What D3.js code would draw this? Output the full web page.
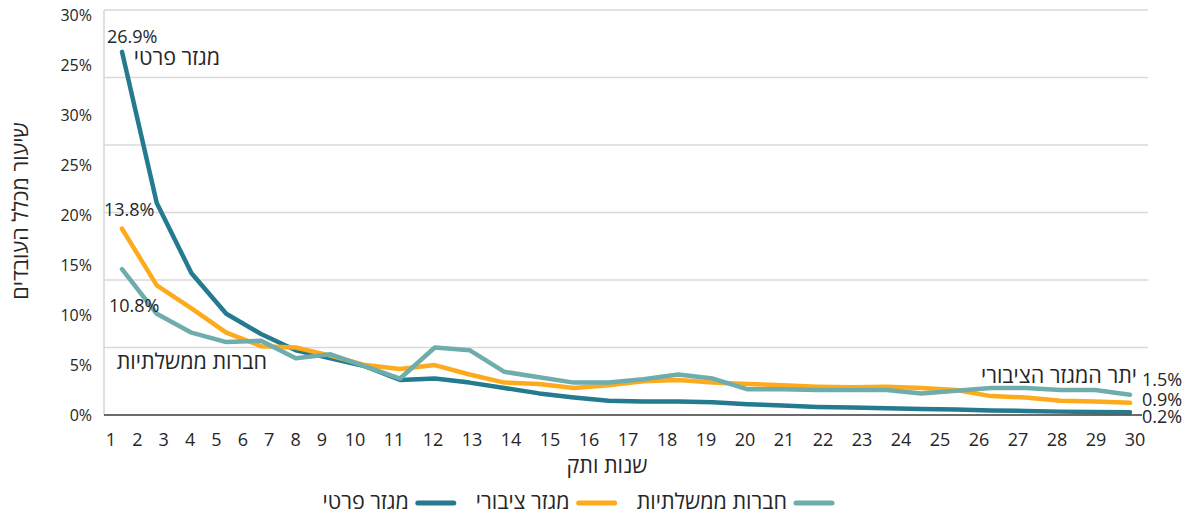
<!DOCTYPE html>
<html lang="he">
<head>
<meta charset="utf-8">
<script src="https://cdn.jsdelivr.net/npm/d3@7/dist/d3.min.js"></script>
<style>
  html, body { margin: 0; padding: 0; background: #ffffff; }
  svg { display: block; font-family: "Open Sans", "DejaVu Sans", sans-serif; }
</style>
</head>
<body>
<svg id="chart" width="1185" height="514"></svg>
<script>
// ---------- data ----------
const years = d3.range(1, 31);
const xTickLabels = years.map(String);
const yTickLabels = ["0%", "5%", "10%", "15%", "20%", "25%", "30%", "25%", "30%"];
const privateSector = [26.9, 15.7, 10.5, 7.5, 6.0, 4.8, 4.2, 3.6, 2.6, 2.7, 2.4, 2.0, 1.6, 1.3, 1.05, 1.0, 1.0, 0.95, 0.8, 0.7, 0.6, 0.55, 0.5, 0.45, 0.4, 0.33, 0.3, 0.25, 0.22, 0.2];
const publicSector  = [13.8, 9.6, 7.9, 6.1, 5.1, 5.0, 4.4, 3.7, 3.4, 3.7, 3.0, 2.4, 2.3, 2.0, 2.2, 2.5, 2.6, 2.4, 2.3, 2.2, 2.1, 2.05, 2.1, 2.0, 1.85, 1.4, 1.3, 1.05, 1.0, 0.9];
const govCompanies  = [10.8, 7.5, 6.1, 5.4, 5.5, 4.2, 4.5, 3.6, 2.7, 5.0, 4.8, 3.2, 2.8, 2.4, 2.4, 2.65, 3.0, 2.7, 1.9, 1.9, 1.85, 1.85, 1.85, 1.6, 1.8, 2.0, 2.0, 1.85, 1.85, 1.5];
const seriesNames = ["מגזר פרטי", "מגזר ציבורי", "חברות ממשלתיות"];
const seriesColors = ["#247a8f", "#fdab1d", "#6fadad"];
const yTitle = "שיעור מכלל העובדים";
const xTitle = "שנות ותק";
const restOfPublic = "יתר המגזר הציבורי";

const series = [
  { name: seriesNames[0], values: privateSector, color: seriesColors[0] },
  { name: seriesNames[1], values: publicSector,  color: seriesColors[1] },
  { name: seriesNames[2], values: govCompanies,  color: seriesColors[2] }
];

// ---------- layout ----------
const svg = d3.select("#chart");
const plotLeft = 104, plotRight = 1148, baseRight = 1142;
const hebSize = 21.5;
const x = d3.scaleLinear().domain([1, 30]).range([122, 1130]);
const y = d3.scaleLinear().domain([0, 30]).range([415, 10]);
const yLab = d3.scaleLinear().domain([0, yTickLabels.length - 1]).range([415, 15]);
const xLab = d3.scaleLinear().domain([1, 9, 10, 30]).range([111, 322, 355, 1135]);

// gridlines
svg.append("g").selectAll("line")
  .data(y.ticks(6).filter(d => d > 0))
  .join("line")
  .attr("x1", plotLeft).attr("x2", plotRight)
  .attr("y1", d => y(d)).attr("y2", d => y(d))
  .attr("stroke", "#d9d9d9").attr("stroke-width", 1.6);

// left axis line
svg.append("line")
  .attr("x1", plotLeft).attr("x2", plotLeft)
  .attr("y1", y(30)).attr("y2", y(0))
  .attr("stroke", "#d9d9d9").attr("stroke-width", 1.6);

// y tick labels
svg.append("g").selectAll("text")
  .data(yTickLabels)
  .join("text")
  .attr("x", 92)
  .attr("y", (d, i) => yLab(i))
  .attr("dy", "0.36em")
  .attr("text-anchor", "end")
  .attr("font-size", 16)
  .attr("fill", "#262626")
  .text(d => d);

// x tick labels
svg.append("g").selectAll("text")
  .data(xTickLabels)
  .join("text")
  .attr("x", (d, i) => xLab(years[i]))
  .attr("y", 446)
  .attr("text-anchor", "middle")
  .attr("font-size", 18)
  .attr("fill", "#262626")
  .text(d => d);

// lines
const line = d3.line()
  .x((d, i) => x(years[i]))
  .y(d => y(d));

svg.append("g").selectAll("path")
  .data(series)
  .join("path")
  .attr("d", d => line(d.values))
  .attr("fill", "none")
  .attr("stroke", d => d.color)
  .attr("stroke-width", 4.5)
  .attr("stroke-linejoin", "round")
  .attr("stroke-linecap", "round");

// baseline
svg.append("line")
  .attr("x1", plotLeft).attr("x2", baseRight)
  .attr("y1", y(0)).attr("y2", y(0))
  .attr("stroke", "#3a3a3a").attr("stroke-width", 1.6);

// annotations
const ann = svg.append("g").attr("font-size", 18).attr("fill", "#262626");
const fmt = v => v.toFixed(1) + "%";
const first = i => series[i].values[0];
const last = i => series[i].values[series[i].values.length - 1];

ann.append("text").attr("x", x(1) - 15).attr("y", y(first(0)) - 9).attr("text-anchor", "start").text(fmt(first(0)));
ann.append("text").attr("x", x(1) + 98).attr("y", y(first(0)) + 13).attr("text-anchor", "end").attr("font-size", hebSize).text(seriesNames[0]);
ann.append("text").attr("x", x(1) - 18).attr("y", y(first(1)) - 13).attr("text-anchor", "start").text(fmt(first(1)));
ann.append("text").attr("x", x(1) - 13).attr("y", y(first(2)) + 43).attr("text-anchor", "start").text(fmt(first(2)));
ann.append("text").attr("x", x(1) + 145).attr("y", y(first(2)) + 100).attr("text-anchor", "end").attr("font-size", hebSize).text(seriesNames[2]);
ann.append("text").attr("x", x(30) + 7).attr("y", y(last(2)) - 12).attr("text-anchor", "end").attr("font-size", hebSize).text(restOfPublic);
ann.append("text").attr("x", x(30) + 12).attr("y", y(last(2)) - 9).text(fmt(last(2)));
ann.append("text").attr("x", x(30) + 12).attr("y", y(last(1)) + 3).text(fmt(last(1)));
ann.append("text").attr("x", x(30) + 12).attr("y", y(last(0)) + 11).text(fmt(last(0)));

// axis titles
svg.append("text")
  .attr("transform", "translate(20,211) rotate(-90)")
  .attr("text-anchor", "middle")
  .attr("dy", "0.35em")
  .attr("font-size", hebSize)
  .attr("fill", "#262626")
  .text(yTitle);

svg.append("text")
  .attr("x", 607).attr("y", 465)
  .attr("dy", "0.35em")
  .attr("text-anchor", "middle")
  .attr("font-size", hebSize)
  .attr("fill", "#262626")
  .text(xTitle);

// legend (right to left)
const legend = svg.append("g").attr("font-size", hebSize).attr("fill", "#262626");
const legendOrder = [2, 1, 0];
let cursor = 832;
legendOrder.forEach(idx => {
  const s = series[idx];
  legend.append("line")
    .attr("x1", cursor - 36).attr("x2", cursor)
    .attr("y1", 503).attr("y2", 503)
    .attr("stroke", s.color).attr("stroke-width", 5).attr("stroke-linecap", "round");
  const t = legend.append("text")
    .attr("x", cursor - 45).attr("y", 501)
    .attr("dy", "0.35em")
    .attr("text-anchor", "end")
    .text(s.name);
  const w = t.node().getComputedTextLength();
  cursor = cursor - 45 - w - 22;
});
</script>
</body>
</html>
